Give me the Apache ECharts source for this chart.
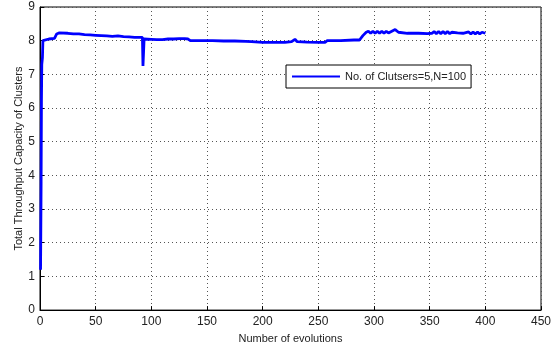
<!DOCTYPE html>
<html><head><meta charset="utf-8">
<script src="https://cdn.jsdelivr.net/npm/echarts@6/dist/echarts.min.js"></script>
<style>html,body{margin:0;padding:0;background:#fff}#c{width:557px;height:349px}</style>
</head><body><div id="c"></div>
<script>
var seriesName = 'No. of Clutsers=5,N=100';
var xLabel = 'Number of evolutions';
var yLabel = 'Total Throughput Capacity of Clusters';
var evolutions = [0.5,1,1.3,1.6,2.2,2.6,3,8,13,15,17,25,30,35,40,45,50,55,60,65,70,75,80,85,90,92,92.5,93,93.5,100,105,110,115,120,125,130,133,135,145,155,165,175,185,190,200,210,220,226,229,231,240,250,256,258,270,282,287,290,293,295,297,299,301,303,305,307,309,311,313,316,319,322,330,340,348,352,354,356,358,360,362,364,366,368,370,375,380,385,387,389,391,393,395,397,400];
var capacity = [1.2,3.8,6.2,7.3,7.5,8.0,8.05,8.05,8.07,8.2,8.23,8.22,8.2,8.2,8.18,8.17,8.16,8.15,8.14,8.13,8.14,8.12,8.11,8.1,8.1,8.1,7.25,7.3,8.05,8.04,8.03,8.03,8.05,8.05,8.06,8.06,8.05,8.0,8.0,8.0,7.99,7.99,7.98,7.97,7.95,7.95,7.95,7.97,8.04,7.97,7.96,7.95,7.95,8.0,8.0,8.02,8.02,8.15,8.25,8.28,8.22,8.28,8.22,8.28,8.22,8.28,8.22,8.28,8.23,8.28,8.33,8.25,8.22,8.22,8.21,8.22,8.27,8.21,8.27,8.21,8.27,8.21,8.27,8.21,8.25,8.23,8.22,8.26,8.2,8.26,8.2,8.26,8.2,8.25,8.22];
var data = evolutions.map(function(x,i){return [x,capacity[i]];});
var chart = echarts.init(document.getElementById('c'), null, {renderer:'canvas'});
var font = 'Arial, "Liberation Sans", sans-serif';
var gridLine = {show:true, lineStyle:{color:'#555', type:[1,3], width:1}};
chart.setOption({
  animation:false,
  backgroundColor:'#fff',
  grid:{left:40, right:16, top:7, bottom:37, show:true, borderColor:'#000', borderWidth:1, backgroundColor:'#fff'},
  legend:{show:true, left:286, top:65, orient:'horizontal', borderColor:'#000', borderWidth:1, backgroundColor:'#fff', padding:[6,5,6,6], itemWidth:48, itemHeight:2, itemGap:4,
    textStyle:{fontFamily:font, fontSize:11, color:'#222'}, data:[{name:seriesName, icon:'rect'}]},
  xAxis:{type:'value', min:0, max:450, interval:50, name:xLabel, nameLocation:'middle', nameGap:19,
    nameTextStyle:{fontFamily:font, fontSize:11, color:'#222'},
    axisLine:{show:true, lineStyle:{color:'#000'}}, axisTick:{show:true, inside:true, length:4, lineStyle:{color:'#000'}},
    axisLabel:{fontFamily:font, fontSize:12, color:'#222', margin:6}, splitLine:gridLine},
  yAxis:{type:'value', min:0, max:9, interval:1, name:yLabel, nameLocation:'middle', nameGap:16, nameMoveOverlap:false,
    nameTextStyle:{fontFamily:font, fontSize:11, color:'#222'},
    axisLine:{show:true, lineStyle:{color:'#000'}}, axisTick:{show:true, inside:true, length:4, lineStyle:{color:'#000'}},
    axisLabel:{fontFamily:font, fontSize:12, color:'#222', margin:5}, splitLine:gridLine},
  series:[{name:seriesName, type:'line', data:data, showSymbol:false, symbol:'none', lineStyle:{color:'#0000ff', width:2.8}, itemStyle:{color:'#0000ff'}}]
});
</script></body></html>
